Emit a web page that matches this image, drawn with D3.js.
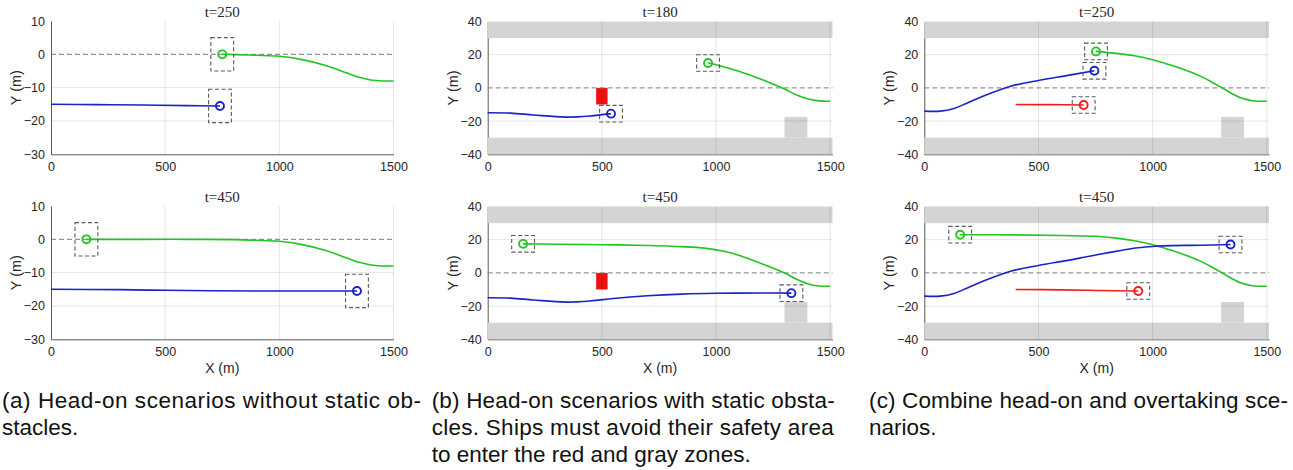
<!DOCTYPE html>
<html>
<head>
<meta charset="utf-8">
<script src="https://cdn.jsdelivr.net/npm/d3@7"></script>
<style>
  html, body { margin: 0; padding: 0; background: #fff; }
  svg { display: block; }
</style>
</head>
<body>
<svg id="fig" width="1293" height="470"></svg>
<script>
// ---- axis ticks and titles ----
const xTicks = [0, 500, 1000, 1500];
const yTicksOpen = [10, 0, -10, -20, -30];
const yTicksChannel = [40, 20, 0, -20, -40];
const panelTitles = ["t=250", "t=450", "t=180", "t=450", "t=250", "t=450"];

// ---- ship trajectories [x (m), y (m)]; the last point is the ship's current position ----
// (a) head-on, open water
const greenA250 = [[750, 0], [800, -0.1], [900, -0.3], [1000, -0.6], [1100, -1.6], [1200, -3.3], [1300, -5.7], [1350, -6.9], [1400, -7.7], [1450, -8], [1500, -8]].reverse();
const blueA250 = [[0, -15], [200, -15.1], [400, -15.2], [600, -15.4], [740, -15.5]];
const greenA450 = [[155, 0], [400, 0], [600, 0], [800, -0.1], [900, -0.3], [1000, -0.6], [1100, -1.6], [1200, -3.3], [1300, -5.7], [1350, -6.9], [1400, -7.7], [1450, -8], [1500, -8]].reverse();
const blueA450 = [[0, -15], [300, -15.1], [500, -15.3], [700, -15.45], [900, -15.5], [1100, -15.5], [1340, -15.5]];

// (b) head-on, channel with static obstacles
const greenB180 = [[965, 15], [1000, 14], [1100, 10], [1200, 5], [1300, -0.7], [1350, -4.1], [1400, -6.5], [1450, -7.8], [1500, -8]].reverse();
const blueB180 = [[0, -15], [100, -15.2], [200, -16.3], [340, -17.6], [450, -16.9], [540, -15.5]];
const greenB450 = [[155, 17.5], [300, 17.3], [500, 17], [700, 16.5], [850, 15.8], [950, 14.9], [1050, 12.6], [1100, 10.6], [1200, 5.5], [1300, -0.1], [1350, -3.7], [1400, -6.5], [1450, -7.9], [1500, -8]].reverse();
const blueB450 = [[0, -15], [100, -15.2], [200, -16.3], [340, -17.6], [450, -16.9], [550, -15.4], [700, -13.8], [850, -12.8], [1000, -12.3], [1200, -12.1], [1330, -12.2]];

// (c) head-on plus overtaking
const greenC250 = [[752, 22], [913, 19.5], [1000, 17], [1058, 14.6], [1130, 11.4], [1204, 7.4], [1262, 3.3], [1305, 0], [1348, -3.5], [1392, -6.3], [1436, -7.7], [1500, -8]].reverse();
const blueC250 = [[0, -14], [70, -14], [130, -12.4], [186, -9.2], [273, -4.1], [375, 0.9], [500, 4.5], [623, 7.4], [745, 10.3]];
const redC250 = [[400, -10], [550, -10.1], [698, -10.3]];
const greenC450 = [[157, 23], [400, 22.9], [600, 22.5], [768, 21.9], [850, 20.8], [913, 19.5], [1000, 17], [1058, 14.6], [1130, 11.4], [1204, 7.4], [1262, 3.3], [1305, 0], [1348, -3.5], [1392, -6.3], [1436, -7.7], [1500, -8]].reverse();
const blueC450 = [[0, -14], [70, -14], [130, -12.4], [186, -9.2], [273, -4.1], [375, 0.9], [500, 4.5], [623, 7.4], [700, 9.4], [768, 11.2], [860, 13.5], [926, 15], [1000, 15.9], [1042, 16.3], [1217, 16.7], [1341, 17.1]];
const redC450 = [[400, -10], [600, -10.2], [768, -10.6], [937, -10.9]];

// ---- static zones (data units) ----
const redZoneX = [475, 525], redZoneY = [-10, 0];
const grayZoneX = [1300, 1400], grayZoneY = [-30, -17.5];
const bankTopY = [30, 40], bankBottomY = [-40, -30];
// half extents of the dashed safety area around each ship
const safetyHalfX = 50, safetyHalfY = 5;

// ---- captions ----
const captionA = ["(a) Head-on scenarios without static ob-", "stacles."];
const captionB = ["(b) Head-on scenarios with static obsta-", "cles. Ships must avoid their safety area", "to enter the red and gray zones."];
const captionC = ["(c) Combine head-on and overtaking sce-", "narios."];

const COLORS = { green: "#22c422", blue: "#1a22c8", red: "#f01c1c" };

const svg = d3.select("#fig");
svg.append("rect").attr("width", 1293).attr("height", 470).attr("fill", "#fff");

function drawPanel(p) {
  const x = d3.scaleLinear().domain(p.xDomain).range([p.left, p.right]);
  const y = d3.scaleLinear().domain(p.yDomain).range([p.bottom, p.top]);
  const g = svg.append("g");

  // axes (domain lines + tick labels)
  const ax = g.append("g").attr("transform", `translate(0,${p.bottom})`)
    .call(d3.axisBottom(x).tickValues(xTicks).tickSize(0).tickPadding(7.5).tickFormat(d3.format("d")));
  const ay = g.append("g").attr("transform", `translate(${p.left},0)`)
    .call(d3.axisLeft(y).tickValues(p.yTicks).tickSize(0).tickPadding(6).tickFormat(d3.format("d")));
  [ax, ay].forEach(a => {
    a.select(".domain").attr("stroke", "#5a5a5a").attr("stroke-width", 1);
    a.selectAll("text").attr("fill", "#262626").style("font-family", "'Liberation Sans', Arial, sans-serif").style("font-size", "12.5px");
  });

  // channel banks and static obstacles
  if (p.channel) {
    [bankTopY, bankBottomY].forEach(b => {
      g.append("rect").attr("x", x(p.xDomain[0])).attr("width", x(p.xDomain[1]) - x(p.xDomain[0]))
        .attr("y", y(b[1])).attr("height", y(b[0]) - y(b[1])).attr("fill", "#d4d4d4");
    });
    g.append("rect").attr("x", x(grayZoneX[0])).attr("width", x(grayZoneX[1]) - x(grayZoneX[0]))
      .attr("y", y(grayZoneY[1])).attr("height", y(grayZoneY[0]) - y(grayZoneY[1])).attr("fill", "#d4d4d4");
  }
  if (p.redZone) {
    g.append("rect").attr("x", x(redZoneX[0])).attr("width", x(redZoneX[1]) - x(redZoneX[0]))
      .attr("y", y(redZoneY[1])).attr("height", y(redZoneY[0]) - y(redZoneY[1])).attr("fill", "#ee1111");
  }

  // grid
  const grid = g.append("g").attr("stroke", "rgba(0,0,0,0.1)").attr("stroke-width", 1);
  xTicks.filter(v => v > 0).forEach(v => {
    grid.append("line").attr("x1", x(v)).attr("x2", x(v)).attr("y1", y(p.yDomain[1])).attr("y2", y(p.yDomain[0]));
  });
  p.yTicks.filter(v => v !== 0 && v !== p.yDomain[0] && v !== p.yDomain[1]).forEach(v => {
    grid.append("line").attr("x1", x(p.xDomain[0])).attr("x2", x(p.xDomain[1])).attr("y1", y(v)).attr("y2", y(v));
  });

  // reference line y = 0
  g.append("line").attr("x1", x(p.xDomain[0])).attr("x2", x(p.xDomain[1])).attr("y1", y(0)).attr("y2", y(0))
    .attr("stroke", "#7a7a7a").attr("stroke-width", 1).attr("stroke-dasharray", "5,3");

  // trajectories, safety boxes and ships
  const line = d3.line().x(d => x(d[0])).y(d => y(d[1])).curve(d3.curveCatmullRom.alpha(0.5));
  p.tracks.forEach(t => {
    const pts = t.data.slice().sort((a, b) => a[0] - b[0]);
    g.append("path").attr("d", line(pts)).attr("fill", "none").attr("stroke", COLORS[t.color]).attr("stroke-width", 1.6);
  });
  p.tracks.forEach(t => {
    const s = t.data[t.data.length - 1];
    g.append("rect").attr("x", x(s[0] - safetyHalfX)).attr("y", y(s[1] + safetyHalfY))
      .attr("width", x(s[0] + safetyHalfX) - x(s[0] - safetyHalfX)).attr("height", y(s[1] - safetyHalfY) - y(s[1] + safetyHalfY))
      .attr("fill", "none").attr("stroke", "#5a5a5a").attr("stroke-width", 1.1).attr("stroke-dasharray", "4,2.5");
    g.append("circle").attr("cx", x(s[0])).attr("cy", y(s[1])).attr("r", 4)
      .attr("fill", "none").attr("stroke", COLORS[t.color]).attr("stroke-width", 1.9);
  });

  // title
  g.append("text").attr("x", (p.left + p.right) / 2).attr("y", p.titleY).attr("text-anchor", "middle")
    .style("font-family", "'Liberation Serif', 'Times New Roman', serif").style("font-size", "15px").attr("fill", "#262626")
    .text(p.title);

  // axis labels
  g.append("text").attr("transform", `translate(${p.left - 35},${(p.top + p.bottom) / 2}) rotate(-90)`)
    .attr("text-anchor", "middle").attr("dy", "0.35em")
    .style("font-family", "'Liberation Sans', Arial, sans-serif").style("font-size", "14.5px").attr("fill", "#262626")
    .text("Y (m)");
  if (p.xLabel) {
    g.append("text").attr("x", (p.left + p.right) / 2).attr("y", p.bottom + 33.5).attr("text-anchor", "middle")
      .style("font-family", "'Liberation Sans', Arial, sans-serif").style("font-size", "14px").attr("fill", "#262626")
      .text("X (m)");
  }
}

const scale = 0.22833; // px per metre
const cols = [
  { left: 51, domain: [0, 1500] },
  { left: 487.7, domain: [0, 1510] },
  { left: 924.3, domain: [0, 1510] }
];
const rows = [{ top: 21.5, bottom: 154.3, titleY: 16.8 }, { top: 206.5, bottom: 339.3, titleY: 201.6 }];

const panels = [
  { col: 0, row: 0, yDomain: [-30, 10], yTicks: yTicksOpen, tracks: [{ data: greenA250, color: "green" }, { data: blueA250, color: "blue" }] },
  { col: 0, row: 1, yDomain: [-30, 10], yTicks: yTicksOpen, tracks: [{ data: greenA450, color: "green" }, { data: blueA450, color: "blue" }] },
  { col: 1, row: 0, yDomain: [-40, 40], yTicks: yTicksChannel, channel: true, redZone: true, tracks: [{ data: greenB180, color: "green" }, { data: blueB180, color: "blue" }] },
  { col: 1, row: 1, yDomain: [-40, 40], yTicks: yTicksChannel, channel: true, redZone: true, tracks: [{ data: greenB450, color: "green" }, { data: blueB450, color: "blue" }] },
  { col: 2, row: 0, yDomain: [-40, 40], yTicks: yTicksChannel, channel: true, tracks: [{ data: greenC250, color: "green" }, { data: blueC250, color: "blue" }, { data: redC250, color: "red" }] },
  { col: 2, row: 1, yDomain: [-40, 40], yTicks: yTicksChannel, channel: true, tracks: [{ data: greenC450, color: "green" }, { data: blueC450, color: "blue" }, { data: redC450, color: "red" }] }
];

panels.forEach((p, i) => {
  const c = cols[p.col], r = rows[p.row];
  drawPanel(Object.assign({}, p, {
    left: c.left, right: c.left + (c.domain[1] - c.domain[0]) * scale, xDomain: c.domain,
    top: p.col === 0 ? r.top - 0.5 : r.top, bottom: r.bottom, titleY: r.titleY,
    title: panelTitles[i], xLabel: p.row === 1
  }));
});

// captions
function caption(lines, x0, widths) {
  lines.forEach((s, i) => {
    const t = svg.append("text").attr("x", x0).attr("y", 407.5 + i * 27)
      .style("font-family", "'Liberation Sans', Arial, sans-serif").style("font-size", "22.5px").attr("fill", "#111")
      .text(s);
    if (widths[i]) t.attr("textLength", widths[i]).attr("lengthAdjust", "spacing");
  });
}
caption(captionA, 2, [419, null]);
caption(captionB, 431.7, [403, 402, null]);
caption(captionC, 869, [419, null]);
</script>
</body>
</html>
